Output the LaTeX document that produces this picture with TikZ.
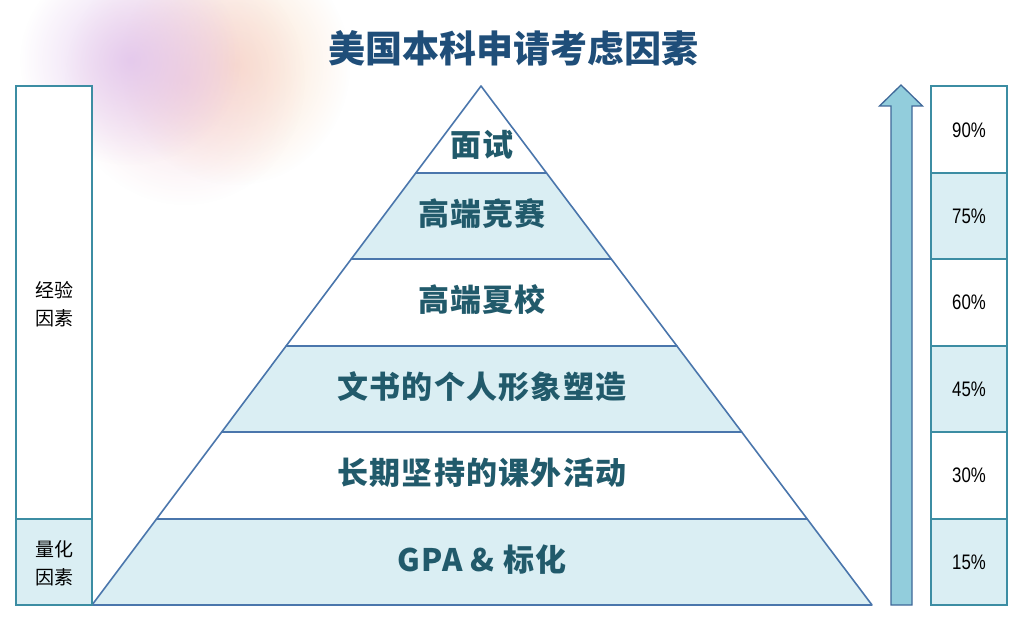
\documentclass[tikz,border=0pt]{standalone}
\usepackage{fontspec}
\setmainfont{Liberation Sans}
\newfontfamily\cjk{Noto Sans CJK SC}
\newfontfamily\cjkspaced[LetterSpace=4]{Noto Sans CJK SC}
\usetikzlibrary{fadings}
\tikzfading[name=blobfade, inner color=transparent!0, outer color=transparent!100]
\definecolor{titleblue}{HTML}{1F4E79}
\definecolor{pyrtext}{HTML}{215A6B}
\definecolor{pyrline}{HTML}{4A76AC}
\definecolor{lightfill}{HTML}{DAEEF3}
\definecolor{boxline}{HTML}{3C8DA3}
\definecolor{arrowfill}{HTML}{92CDDC}
\definecolor{arrowline}{HTML}{3F6899}
\definecolor{blobpurple}{HTML}{E0C2EC}
\definecolor{blobpink}{HTML}{F3CCD8}
\definecolor{blobpeach}{HTML}{FADCC2}
\tikzset{
  band/.style={draw=pyrline, line width=1.6pt, line join=round},
  pyrlabel/.style={font=\cjkspaced\bfseries\fontsize{31}{34}\selectfont, text=pyrtext, inner sep=0pt},
  sidebox/.style={draw=boxline, line width=1.6pt},
  pctlabel/.style={font=\fontsize{21}{23}\selectfont, text=black, inner sep=0pt, xscale=0.8},
  sidelabel/.style={font=\cjk\fontsize{19}{28}\selectfont, text=black, align=center, inner sep=0pt},
}
\begin{document}
\begin{tikzpicture}[x=1pt,y=-1pt]
\useasboundingbox (0,0) rectangle (1026,628);
\fill[white] (0,0) rectangle (1026,628);
% soft background blob
\fill[blobpeach, path fading=blobfade, fill opacity=0.85] (235,65) ellipse (115 and 120);
\fill[blobpink, path fading=blobfade, fill opacity=0.7] (185,80) ellipse (120 and 125);
\fill[blobpurple, path fading=blobfade, fill opacity=0.8] (130,60) ellipse (110 and 105);
% title
\node[font=\cjk\bfseries\fontsize{37}{40}\selectfont, text=titleblue, inner sep=0pt] (title) at (513,48) {美国本科申请考虑因素};
% pyramid bands
\coordinate (apex) at (481,86);
\filldraw[band, fill=white] (apex) -- (546.5,173) -- (415.8,173) -- cycle;
\filldraw[band, fill=lightfill] (415.8,173) -- (546.5,173) -- (611.3,259) -- (351.3,259) -- cycle;
\filldraw[band, fill=white] (351.3,259) -- (611.3,259) -- (676.9,346) -- (286.1,346) -- cycle;
\filldraw[band, fill=lightfill] (286.1,346) -- (676.9,346) -- (741.7,432) -- (221.7,432) -- cycle;
\filldraw[band, fill=white] (221.7,432) -- (741.7,432) -- (807.2,519) -- (156.5,519) -- cycle;
\filldraw[band, fill=lightfill] (156.5,519) -- (807.2,519) -- (872,605) -- (92,605) -- cycle;
\node[pyrlabel] (l1) at (482,145) {面试};
\node[pyrlabel] (l2) at (482,214) {高端竞赛};
\node[pyrlabel] (l3) at (482,300) {高端夏校};
\node[pyrlabel] (l4) at (482,387) {文书的个人形象塑造};
\node[pyrlabel] (l5) at (482,473) {长期坚持的课外活动};
\node[pyrlabel] (l6) at (482,560) {GPA \& 标化};
% left column
\filldraw[sidebox, fill=white] (16,86) rectangle (92,519);
\filldraw[sidebox, fill=lightfill] (16,519) rectangle (92,605);
\node[sidelabel] (exp) at (54,304) {经验\\因素};
\node[sidelabel] (quant) at (54,563) {量化\\因素};
% arrow
\filldraw[draw=arrowline, fill=arrowfill, line width=1.3pt, line join=miter]
  (891,605) -- (891,106) -- (879.5,106) -- (901,85) -- (922.5,106) -- (912,106) -- (912,605) -- cycle;
% right column
\filldraw[sidebox, fill=white] (931,86) rectangle (1007,173);
\filldraw[sidebox, fill=lightfill] (931,173) rectangle (1007,259);
\filldraw[sidebox, fill=white] (931,259) rectangle (1007,346);
\filldraw[sidebox, fill=lightfill] (931,346) rectangle (1007,432);
\filldraw[sidebox, fill=white] (931,432) rectangle (1007,519);
\filldraw[sidebox, fill=lightfill] (931,519) rectangle (1007,605);
\node[pctlabel] (p90) at (969,130) {90\%};
\node[pctlabel] (p75) at (969,216) {75\%};
\node[pctlabel] (p60) at (969,302) {60\%};
\node[pctlabel] (p45) at (969,389) {45\%};
\node[pctlabel] (p30) at (969,475) {30\%};
\node[pctlabel] (p15) at (969,562) {15\%};
\end{tikzpicture}
\end{document}
